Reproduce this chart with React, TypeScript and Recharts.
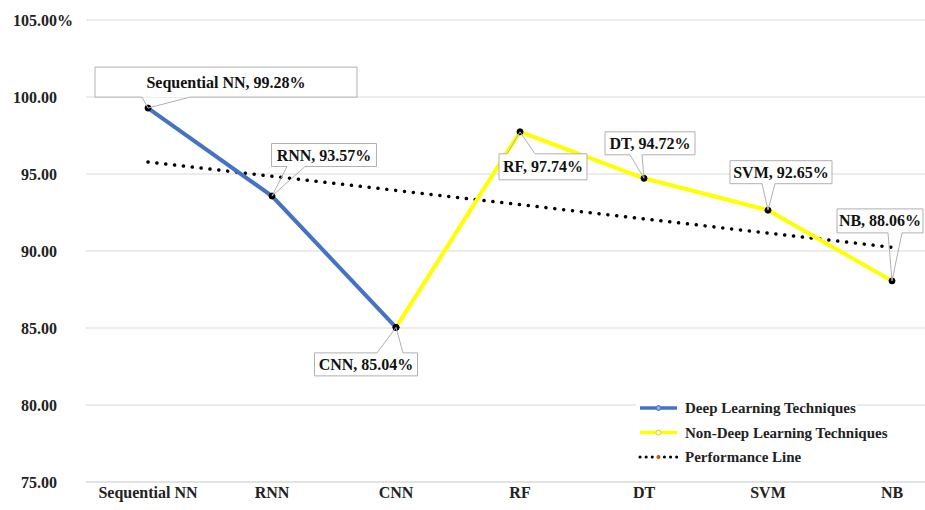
import { LineChart, Line, XAxis, YAxis, CartesianGrid, LabelList, Legend } from "recharts";

const categories = ["Sequential NN", "RNN", "CNN", "RF", "DT", "SVM", "NB"];
const accuracy = [99.28, 93.57, 85.04, 97.74, 94.72, 92.65, 88.06];
const deepModels = ["Sequential NN", "RNN", "CNN"];
const nonDeepModels = ["CNN", "RF", "DT", "SVM", "NB"];
// performance line: value at first and last model
const trendEnds = [95.78, 90.24];
const yTicks = [75, 80, 85, 90, 95, 100, 105];

const BLUE = "#4472c4";
const YELLOW = "#ffff00";
const GRID = "#d9d9d9";
const FONT = "'Liberation Serif', 'Times New Roman', serif";

const rows = categories.map((name, i) => ({
  name,
  deep: deepModels.includes(name) ? accuracy[i] : null,
  nonDeep: nonDeepModels.includes(name) ? accuracy[i] : null,
  trend: i === 0 ? trendEnds[0] : i === categories.length - 1 ? trendEnds[1] : null,
}));

// callout box placement relative to its point: box centre (dx, dy), size (w, h),
// pointer attached to top/bottom edge between b1..b2 (x offsets from the point)
type Callout = { dx: number; dy: number; w: number; h: number; edge: "top" | "bottom"; b1: number; b2: number };
const CALLOUTS: Record<string, Callout> = {
  "Sequential NN": { dx: 78, dy: -26, w: 262, h: 30, edge: "bottom", b1: -6, b2: 42 },
  RNN: { dx: 52, dy: -41, w: 105, h: 23, edge: "bottom", b1: 15, b2: 33 },
  CNN: { dx: -30, dy: 37, w: 103, h: 23, edge: "top", b1: -19, b2: 7 },
  RF: { dx: 23, dy: 35, w: 88, h: 26, edge: "top", b1: -13, b2: 15 },
  DT: { dx: 6, dy: -35, w: 90, h: 23, edge: "bottom", b1: -14, b2: -2 },
  SVM: { dx: 13, dy: -38, w: 102, h: 23, edge: "bottom", b1: -6, b2: 7 },
  NB: { dx: -12, dy: -60, w: 86, h: 24, edge: "bottom", b1: -4, b2: 10 },
};

const makeCallout = (skip: string[]) => (props: any) => {
  const { x, y, value, index } = props;
  if (value == null || x == null || y == null) return null;
  const name = categories[index];
  if (skip.includes(name)) return null;
  const c = CALLOUTS[name];
  const x0 = x + c.dx - c.w / 2;
  const x1 = x + c.dx + c.w / 2;
  const y0 = y + c.dy - c.h / 2;
  const y1 = y + c.dy + c.h / 2;
  const outline =
    c.edge === "bottom"
      ? `M${x0},${y0} H${x1} V${y1} H${x + c.b2} L${x},${y} L${x + c.b1},${y1} H${x0} Z`
      : `M${x0},${y0} H${x + c.b1} L${x},${y} L${x + c.b2},${y0} H${x1} V${y1} H${x0} Z`;
  return (
    <g>
      <rect x={x0} y={y0} width={c.w} height={c.h} fill="#fff" />
      <path d={outline} fill="none" stroke="#b0b0b0" strokeWidth={1} />
      <text
        x={x + c.dx}
        y={y + c.dy}
        dy={5.5}
        textAnchor="middle"
        fontFamily={FONT}
        fontWeight="bold"
        fontSize={16}
        fill="#111"
      >
        {`${name}, ${value.toFixed(2)}%`}
      </text>
    </g>
  );
};

const YTick = ({ y, payload }: any) => (
  <g fontFamily={FONT} fontWeight="bold" fontSize={16} fill="#222">
    <text x={57} y={y} dy={5.5} textAnchor="end" fill="#222">
      {Number(payload.value).toFixed(2)}
    </text>
    {payload.value === 105 && (
      <text x={57} y={y} dy={5.5} textAnchor="start" fill="#222">
        %
      </text>
    )}
  </g>
);

const XTick = ({ x, payload }: any) => (
  <text x={x} y={498} textAnchor="middle" fontFamily={FONT} fontWeight="bold" fontSize={16} fill="#222">
    {payload.value}
  </text>
);

const legendItems = [
  { label: "Deep Learning Techniques", kind: "deep" },
  { label: "Non-Deep Learning Techniques", kind: "nonDeep" },
  { label: "Performance Line", kind: "trend" },
];

const LegendBox = () => (
  <svg width={289} height={76} style={{ display: "block" }}>
    <rect x={0} y={0} width={221} height={76} fill="#fff" />
    {legendItems.map((item, i) => {
      const cy = 12 + i * 24.5;
      return (
        <g key={item.kind}>
          {item.kind === "deep" && (
            <>
              <line x1={4} x2={41} y1={cy} y2={cy} stroke={BLUE} strokeWidth={3.5} />
              <circle cx={22.5} cy={cy} r={2.5} fill="#8faadc" stroke={BLUE} />
            </>
          )}
          {item.kind === "nonDeep" && (
            <>
              <line x1={4} x2={41} y1={cy} y2={cy} stroke={YELLOW} strokeWidth={3.5} />
              <circle cx={22.5} cy={cy} r={2.5} fill="#fff" stroke="#d6d600" />
            </>
          )}
          {item.kind === "trend" && (
            <>
              <line x1={4} x2={41} y1={cy} y2={cy} stroke="#000" strokeWidth={3} strokeDasharray="0.1 6" strokeLinecap="round" />
              <circle cx={22.5} cy={cy} r={2} fill="#c55a11" />
            </>
          )}
          <text x={49} y={cy} dy={5} fontFamily={FONT} fontWeight="bold" fontSize={15} fill="#222">
            {item.label}
          </text>
        </g>
      );
    })}
  </svg>
);

export default function App() {
  return (
    <div style={{ position: "absolute", left: 0, top: 0, width: 925, height: 510, background: "#fff" }}>
      <LineChart width={925} height={510} data={rows} margin={{ top: 20, right: 0, bottom: 0, left: 0 }}>
        <CartesianGrid vertical={false} stroke={GRID} />
        <XAxis
          dataKey="name"
          axisLine={{ stroke: GRID }}
          tickLine={false}
          tick={<XTick />}
          height={28}
          interval={0}
          padding={{ left: 62, right: 33 }}
        />
        <YAxis
          domain={[75, 105]}
          ticks={yTicks}
          width={86}
          axisLine={false}
          tickLine={false}
          tick={<YTick />}
        />
        <Legend
          layout="horizontal"
          verticalAlign="middle"
          align="center"
          wrapperStyle={{ position: "absolute", left: 636, top: 396, width: 289 }}
          content={() => <LegendBox />}
        />
        <Line
          dataKey="trend"
          connectNulls
          stroke="#000"
          strokeWidth={3.5}
          strokeDasharray="0.1 8.8"
          strokeLinecap="round"
          dot={false}
          activeDot={false}
          isAnimationActive={false}
        />
        <Line
          dataKey="deep"
          stroke={BLUE}
          strokeWidth={4}
          dot={{ r: 3, fill: "#000", stroke: "#000", strokeWidth: 1 }}
          activeDot={false}
          isAnimationActive={false}
        >
          <LabelList dataKey="deep" content={makeCallout([])} />
        </Line>
        <Line
          dataKey="nonDeep"
          stroke={YELLOW}
          strokeWidth={4}
          dot={{ r: 3, fill: "#000", stroke: "#000", strokeWidth: 1 }}
          activeDot={false}
          isAnimationActive={false}
        >
          <LabelList dataKey="nonDeep" content={makeCallout(["CNN"])} />
        </Line>
      </LineChart>
    </div>
  );
}
